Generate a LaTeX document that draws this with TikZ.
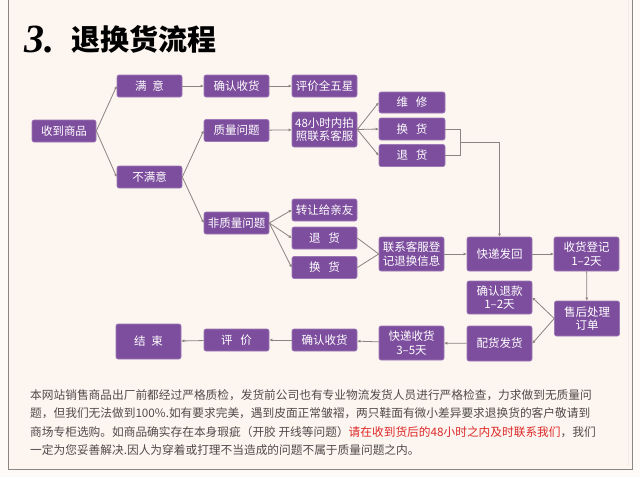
\documentclass[tikz,border=0pt]{standalone}
\usepackage{fontspec}
\setmainfont{Liberation Serif}
\newfontfamily\cjk{Noto Sans CJK SC}
\usetikzlibrary{arrows.meta}
\definecolor{pur}{RGB}{125,78,158}
\definecolor{bg}{RGB}{252,245,240}
\definecolor{outbg}{RGB}{253,250,247}
\definecolor{conncol}{RGB}{140,130,128}
\definecolor{frame}{RGB}{140,134,130}
\definecolor{txt}{RGB}{80,75,75}
\definecolor{redtxt}{RGB}{220,40,40}
\tikzset{
  box/.style={rectangle, fill=pur, draw=pur!75!white, line width=0.6pt, rounded corners=2pt,
    text=white, font=\cjk\fontsize{11.5}{13.5}\selectfont, minimum width=65pt,
    minimum height=22pt, inner sep=0pt, align=center},
  tall/.style={box, minimum height=34pt},
  conn/.style={draw=conncol, line width=0.8pt},
  arr/.style={conn, -{Latex[length=3pt,width=3pt]}},
  note/.style={anchor=west, inner sep=0pt, text=txt, font=\cjk\fontsize{11.7}{14}\selectfont}
}
\begin{document}
\begin{tikzpicture}[x=1pt,y=-1pt]
\useasboundingbox (0,0) rectangle (640,477);
\fill[outbg] (0,0) rectangle (640,477);
\fill[bg] (8,0) rectangle (632,469);
\draw[frame, line width=1pt] (8,0) -- (8,469) -- (632,469) -- (632,0);
\draw[white!85!frame, line width=0.8pt] (628,0) -- (628,466);

% title
\node[anchor=base west, inner sep=0pt, font=\fontsize{40}{44}\selectfont\bfseries\itshape] (t3) at (24,52) {3.};
\node[anchor=base west, inner sep=0pt, font=\cjk\bfseries\fontsize{29}{31}\selectfont] (tt) at (71,50) {退换货流程};

% nodes
\node[box] (recv) at (64,131) [minimum width=64pt] {收到商品};
\node[box] (sat) at (149.5,86) {满\hspace{6pt}意};
\node[box] (conf1) at (236.5,86) {确认收货};
\node[box] (eval5) at (324.5,86) {评价全五星};
\node[box] (qual) at (236.5,130.5) {质量问题};
\node[tall] (h48) at (324.5,129.5) [minimum height=35pt] {48小时内拍\\照联系客服};
\node[box] (unsat) at (149.5,177) {不满意};
\node[box] (wx) at (412,102.5) [minimum width=66pt, minimum height=21pt] {维\hspace{8pt}修};
\node[box] (hh1) at (412,129) [minimum width=66pt] {换\hspace{8pt}货};
\node[box] (th1) at (412,155.5) [minimum width=66pt] {退\hspace{8pt}货};
\node[box] (nonq) at (236.5,223) {非质量问题};
\node[box] (zr) at (324.5,210) {转让给亲友};
\node[box] (th2) at (324.5,238) {退\hspace{8pt}货};
\node[box] (hh2) at (324.5,267.5) {换\hspace{8pt}货};
\node[tall] (lx) at (411.5,254) {联系客服登\\记退换信息};
\node[tall] (kdfh) at (499.5,254) {快递发回};
\node[tall] (shdj) at (586.5,254) {收货登记\\1–2天};
\node[tall] (qrtk) at (499.5,297.5) [minimum height=33pt] {确认退款\\1–2天};
\node[tall] (shcl) at (587,318.5) [minimum height=35pt] {售后处理\\订单};
\node[tall] (phfh) at (499.5,343.5) [minimum height=35pt] {配货发货};
\node[tall] (kdsh) at (411.5,343) {快递收货\\3–5天};
\node[box] (conf2) at (324.5,340) {确认收货};
\node[box] (pj) at (236.5,340) {评\hspace{8pt}价};
\node[tall] (endn) at (148.5,341.5) [minimum height=35pt] {结\hspace{6pt}束};

% connectors
\draw[arr] (recv.east) -- (sat.west);
\draw[arr] (recv.east) -- (unsat.west);
\draw[arr] (sat) -- (conf1);
\draw[arr] (conf1) -- (eval5);
\draw[arr] (unsat.east) -- (qual.west);
\draw[arr] (unsat.east) -- (nonq.west);
\draw[arr] (qual) -- (h48);
\draw[arr] (h48.east) -- (wx.west);
\draw[arr] (h48.east) -- (hh1.west);
\draw[arr] (h48.east) -- (th1.west);
\draw[arr] (nonq.east) -- (zr.west);
\draw[arr] (nonq.east) -- (th2.west);
\draw[arr] (nonq.east) -- (hh2.west);
\draw[conn] (th2.east) -- (lx.west);
\draw[conn] (hh2.east) -- (lx.west);
\coordinate (j1) at (460,142);
\draw[conn] (hh1.east) -| (j1);
\draw[conn] (th1.east) -| (j1);
\draw[arr] (j1) -| (kdfh.north);
\draw[arr] (lx) -- (kdfh);
\draw[arr] (kdfh) -- (shdj);
\draw[arr] (shdj) -- (shcl);
\draw[arr] (shcl.west) -- (qrtk.east);
\draw[arr] (shcl.west) -- (phfh.east);
\draw[arr] (phfh) -- (kdsh);
\draw[arr] (kdsh) -- (conf2);
\draw[arr] (conf2) -- (pj);
\draw[arr] (pj) -- (endn);

% note
\node[note] (n1) at (30,395) {本网站销售商品出厂前都经过严格质检，发货前公司也有专业物流发货人员进行严格检查，力求做到无质量问};
\node[note] (n2) at (30,413.5) {题，但我们无法做到100\%.如有要求完美，遇到皮面正常皱褶，两只鞋面有微小差异要求退换货的客户敬请到};
\node[note] (n3) at (30,432) {商场专柜选购。如商品确实存在本身瑕疵（开胶 开线等问题）{\color{redtxt}请在收到货后的48小时之内及时联系我们}，我们};
\node[note] (n4) at (30,450.5) {一定为您妥善解决.因人为穿着或打理不当造成的问题不属于质量问题之内。};
\end{tikzpicture}
\end{document}
